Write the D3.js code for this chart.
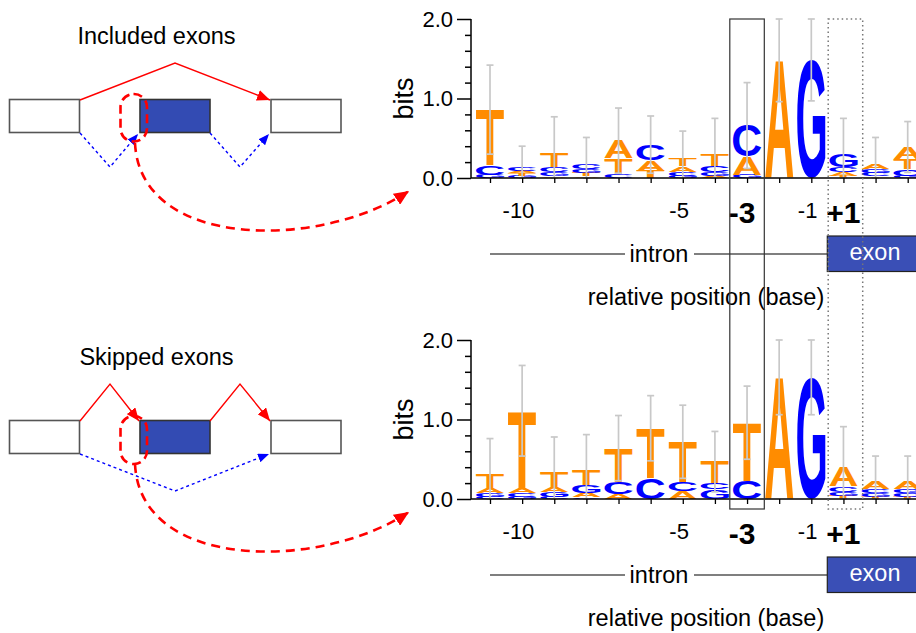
<!DOCTYPE html>
<html>
<head>
<meta charset="utf-8">
<script src="https://cdn.jsdelivr.net/npm/d3@7"></script>
<style>
  html, body { margin: 0; padding: 0; background: #fff; }
  svg { display: block; font-family: "Liberation Sans", Arial, sans-serif; }
</style>
</head>
<body>
<svg id="fig" width="916" height="633"></svg>
<script>
// Sequence positions around the 3' splice site (no position 0)
const positions = ["-11","-10","-9","-8","-7","-6","-5","-4","-3","-2","-1","+1","+2","+3"];

// Letter stacks, bottom to top, heights in bits — included exons
const includedLogo = [
  [["G",0.04],["C",0.12],["T",0.70]],
  [["G",0.03],["T",0.03],["A",0.03],["C",0.05]],
  [["A",0.02],["G",0.05],["C",0.07],["T",0.18]],
  [["A",0.02],["T",0.04],["G",0.05],["C",0.07]],
  [["C",0.05],["T",0.20],["A",0.22]],
  [["T",0.09],["A",0.13],["C",0.20]],
  [["G",0.03],["C",0.05],["A",0.07],["T",0.09]],
  [["A",0.03],["G",0.04],["C",0.08],["T",0.14]],
  [["G",0.04],["A",0.23],["C",0.39]],
  [["A",1.48]],
  [["G",1.49]],
  [["T",0.03],["A",0.04],["C",0.07],["G",0.16]],
  [["T",0.02],["C",0.04],["G",0.05],["A",0.07]],
  [["G",0.03],["C",0.08],["T",0.13],["A",0.15]]
];
const includedError = [0.56,0.26,0.45,0.33,0.41,0.36,0.35,0.46,0.54,0.52,0.52,0.45,0.33,0.32];

// Letter stacks, bottom to top, heights in bits — skipped exons
const skippedLogo = [
  [["C",0.03],["G",0.05],["A",0.06],["T",0.18]],
  [["G",0.03],["C",0.04],["A",0.06],["T",0.98]],
  [["C",0.03],["G",0.06],["A",0.06],["T",0.19]],
  [["C",0.02],["A",0.06],["G",0.10],["T",0.19]],
  [["A",0.06],["C",0.15],["T",0.43]],
  [["C",0.27],["T",0.62]],
  [["A",0.10],["C",0.11],["T",0.51]],
  [["G",0.12],["C",0.08],["T",0.27]],
  [["C",0.23],["T",0.73]],
  [["A",1.53]],
  [["G",1.53]],
  [["T",0.04],["G",0.05],["C",0.07],["A",0.25]],
  [["T",0.03],["G",0.04],["C",0.05],["A",0.09]],
  [["T",0.03],["C",0.04],["G",0.05],["A",0.09]]
];
const skippedError = [0.44,0.57,0.44,0.44,0.41,0.41,0.46,0.38,0.46,0.47,0.47,0.50,0.33,0.33];

const majorBits = [0, 1, 2];
const minorBits = [0.2,0.4,0.6,0.8,1.2,1.4,1.6,1.8];
const labelledPositions = ["-10","-5","-3","-1","+1"];
const emphasisedPositions = ["-3","+1"];

const letterColor = { A: "#ff8c00", T: "#ff8c00", C: "#0000ff", G: "#0000ff" };
const FONT = "'Liberation Sans', Arial, sans-serif";

const svg = d3.select("#fig");

// Tight glyph boxes for stretching letters into their cells
const ctx = document.createElement("canvas").getContext("2d");
ctx.font = "bold 100px " + FONT;
const glyphBox = {};
for (const ch of ["A","C","G","T"]) {
  const m = ctx.measureText(ch);
  glyphBox[ch] = { L: m.actualBoundingBoxLeft, R: m.actualBoundingBoxRight,
                   A: m.actualBoundingBoxAscent, D: m.actualBoundingBoxDescent };
}
function textWidth(str, font) { ctx.font = font; return ctx.measureText(str).width; }

const x = d3.scalePoint().domain(positions).range([490, 907.7]);
const step = x.step();
const letterW = step * 0.88;

function drawLogo(dy, logo, errs) {
  const y = d3.scaleLinear().domain([0, 2]).range([178 + dy, 19 + dy]);
  const g = svg.append("g");

  // letters
  logo.forEach((stack, i) => {
    const cx = x(positions[i]);
    let cum = 0;
    stack.forEach(([ch, h]) => {
      const y0 = y(cum + h), y1 = y(cum);
      cum += h;
      const b = glyphBox[ch];
      const sx = letterW / (b.L + b.R), sy = (y1 - y0) / (b.A + b.D);
      g.append("text")
        .attr("font-family", FONT).attr("font-weight", "bold").attr("font-size", 100)
        .attr("fill", letterColor[ch])
        .attr("transform", `translate(${cx - letterW / 2},${y0}) scale(${sx},${sy}) translate(${b.L},${b.A})`)
        .text(ch);
    });
  });

  // error bars
  logo.forEach((stack, i) => {
    const cx = x(positions[i]);
    const total = d3.sum(stack, d => d[1]);
    const lo = y(Math.max(0, total - errs[i])), hi = y(Math.min(2, total + errs[i]));
    const eb = g.append("g").attr("stroke", "#c8c8c8").attr("stroke-width", 1.7);
    eb.append("line").attr("x1", cx).attr("x2", cx).attr("y1", lo).attr("y2", hi);
    eb.append("line").attr("x1", cx - 3.5).attr("x2", cx + 3.5).attr("y1", lo).attr("y2", lo);
    eb.append("line").attr("x1", cx - 3.5).attr("x2", cx + 3.5).attr("y1", hi).attr("y2", hi);
  });

  // y axis
  const yMinor = g.append("g").attr("transform", "translate(471,0)")
    .call(d3.axisLeft(y).tickValues(minorBits).tickSize(6).tickFormat(""));
  yMinor.select(".domain").remove();
  const yMajor = g.append("g").attr("transform", "translate(471,0)")
    .call(d3.axisLeft(y).tickValues(majorBits).tickSize(14).tickPadding(4).tickFormat(d3.format(".1f")));
  yMajor.select(".domain").attr("d", `M0,${y(2)}V${y(0)}`).attr("stroke", "#000").attr("stroke-width", 1.5);
  g.selectAll(".tick line").attr("stroke", "#000").attr("stroke-width", 1.5);
  yMajor.selectAll(".tick text").attr("font-family", FONT).attr("font-size", 22).attr("fill", "#000");

  g.append("text").attr("font-family", FONT).attr("font-size", 27)
    .attr("transform", `translate(413,${y(1.0)}) rotate(-90)`)
    .attr("text-anchor", "middle").text("bits");

  // x axis
  const xAx = g.append("g").attr("transform", `translate(0,${y(0)})`)
    .call(d3.axisBottom(x).tickSize(5).tickFormat(""));
  xAx.select(".domain").attr("d", "M471,0H916").attr("stroke", "#000").attr("stroke-width", 1.5);
  xAx.selectAll(".tick line").attr("stroke", "#000").attr("stroke-width", 1.3);

  labelledPositions.forEach(p => {
    const bold = emphasisedPositions.includes(p);
    const size = bold ? 30 : 22;
    const font = (bold ? "bold " : "") + size + "px " + FONT;
    const t = g.append("text").attr("font-family", FONT).attr("font-size", size)
      .attr("font-weight", bold ? "bold" : "normal")
      .attr("y", bold ? 222.7 + dy : 217.7 + dy).text(p);
    if (p.startsWith("-")) {
      const w = textWidth(p.slice(1), font);
      t.attr("text-anchor", "end").attr("x", x(p) + w / 2);
    } else {
      t.attr("text-anchor", "middle").attr("x", x(p));
    }
  });

  // intron / exon strip
  g.append("text").attr("font-family", FONT).attr("font-size", 23.5)
    .attr("text-anchor", "middle").attr("x", 659).attr("y", 261.5 + dy).text("intron");
  g.append("line").attr("x1", 490).attr("x2", 625).attr("y1", 254 + dy).attr("y2", 254 + dy)
    .attr("stroke", "#000").attr("stroke-width", 1.2);
  g.append("line").attr("x1", 694).attr("x2", 827).attr("y1", 254 + dy).attr("y2", 254 + dy)
    .attr("stroke", "#000").attr("stroke-width", 1.2);
  g.append("rect").attr("x", 827.3).attr("y", 236 + dy).attr("width", 100).attr("height", 35.5)
    .attr("fill", "#3a4fb6").attr("stroke", "#222").attr("stroke-width", 1.2);
  g.append("text").attr("font-family", FONT).attr("font-size", 23.5).attr("fill", "#fff")
    .attr("text-anchor", "middle").attr("x", 875).attr("y", 260 + dy).text("exon");
  g.append("text").attr("font-family", FONT).attr("font-size", 23.5)
    .attr("text-anchor", "middle").attr("x", 706).attr("y", 304.5 + dy).text("relative position (base)");
}

drawLogo(0, includedLogo, includedError);
drawLogo(321, skippedLogo, skippedError);

// highlight boxes spanning both logos
svg.append("rect").attr("x", 729.8).attr("y", 19).attr("width", 34.5).attr("height", 490)
  .attr("fill", "none").attr("stroke", "#333").attr("stroke-width", 1.2);
svg.append("rect").attr("x", 828.2).attr("y", 19).attr("width", 34.5).attr("height", 490)
  .attr("fill", "none").attr("stroke", "#777").attr("stroke-width", 1.5).attr("stroke-dasharray", "1.5,3");

// ---- splicing diagrams ----
const defs = svg.append("defs");
function marker(id, color, w, h) {
  defs.append("marker").attr("id", id).attr("viewBox", `0 0 ${w} ${h}`)
    .attr("refX", w).attr("refY", h / 2).attr("markerWidth", w).attr("markerHeight", h)
    .attr("markerUnits", "userSpaceOnUse").attr("orient", "auto")
    .append("path").attr("d", `M0,0L${w},${h / 2}L0,${h}Z`).attr("fill", color);
}
marker("arRed", "#ff0000", 13, 11);
marker("arBlue", "#0000ff", 11, 9);
marker("arCurve", "#ff0000", 15, 13);

function diagram(dy, title, skipped) {
  const g = svg.append("g").attr("transform", `translate(0,${dy})`);
  g.append("text").attr("font-family", FONT).attr("font-size", 23.5).attr("text-anchor", "middle")
    .attr("x", 156.5).attr("y", 44).text(title);
  const boxes = [[9.5, "#fff"], [140, "#334bb3"], [271, "#fff"]];
  boxes.forEach(([bx, fill]) => {
    g.append("rect").attr("x", bx).attr("y", 99.5).attr("width", 70).attr("height", 33)
      .attr("fill", fill).attr("stroke", fill === "#fff" ? "#555" : "#333").attr("stroke-width", 1.6);
  });
  const red = d => g.append("path").attr("d", d).attr("fill", "none").attr("stroke", "#ff0000")
    .attr("stroke-width", 1.4).attr("marker-end", "url(#arRed)");
  const blue = d => g.append("path").attr("d", d).attr("fill", "none").attr("stroke", "#0000ff")
    .attr("stroke-width", 1.4).attr("stroke-dasharray", "3,3").attr("marker-end", "url(#arBlue)");
  if (!skipped) {
    red("M80,100L175,63L270,100");
    blue("M80,133L110,167L138,134");
    blue("M210,133L240,167L269,134");
  } else {
    red("M80,100L110,63L139,100");
    red("M210,100L240,63L270,100");
    blue("M80,133L175,170L269,133");
  }
  // splice-site loop and link to the logo
  g.append("rect").attr("x", 120.5).attr("y", skipped ? 95 : 94).attr("width", 26.5).attr("height", skipped ? 48 : 47.5)
    .attr("rx", 13).attr("ry", 13).attr("fill", "none").attr("stroke", "#ff0000")
    .attr("stroke-width", 2.6).attr("stroke-dasharray", "9,5");
  g.append("path").attr("d", "M135,143C140,250 320,250 409,191")
    .attr("fill", "none").attr("stroke", "#ff0000").attr("stroke-width", 2.6)
    .attr("stroke-dasharray", "9,6").attr("marker-end", "url(#arCurve)");
}
diagram(0, "Included exons", false);
diagram(321, "Skipped exons", true);
</script>
</body>
</html>
